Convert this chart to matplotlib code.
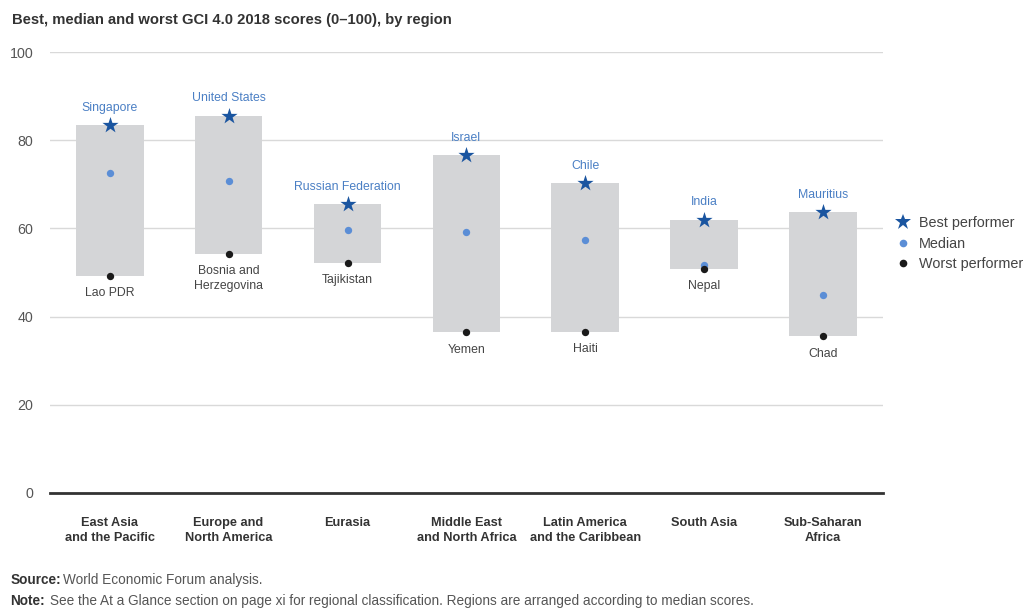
import matplotlib
matplotlib.use('Agg')
import matplotlib.pyplot as plt
from matplotlib.lines import Line2D

plt.rcParams['font.family'] = ['Liberation Sans', 'DejaVu Sans']

regions = ["East Asia\nand the Pacific", "Europe and\nNorth America", "Eurasia",
           "Middle East\nand North Africa", "Latin America\nand the Caribbean",
           "South Asia", "Sub-Saharan\nAfrica"]
best_names  = ["Singapore", "United States", "Russian Federation", "Israel", "Chile", "India", "Mauritius"]
best_scores = [83.5, 85.6, 65.6, 76.6, 70.3, 62.0, 63.7]
median_scores = [72.6, 70.7, 59.6, 59.2, 57.4, 51.7, 44.9]
worst_names  = ["Lao PDR", "Bosnia and\nHerzegovina", "Tajikistan", "Yemen", "Haiti", "Nepal", "Chad"]
worst_scores = [49.3, 54.2, 52.2, 36.4, 36.5, 50.8, 35.5]

c_bar    = "#d4d5d7"
c_star   = "#1a55a0"
c_median = "#5b8ed6"
c_worst  = "#1a1a1a"
c_label  = "#4a7fc4"
c_text   = "#444444"

fig = plt.figure(figsize=(10.24, 6.09), dpi=100)
ax = fig.add_axes([0.049, 0.1905, 0.813, 0.7241])

x = list(range(len(regions)))
heights = [b - w for b, w in zip(best_scores, worst_scores)]
ax.bar(x, heights, bottom=worst_scores, width=0.57, color=c_bar, zorder=2)
ax.scatter(x, best_scores, marker="*", s=150, color=c_star, zorder=4, linewidths=0)
ax.scatter(x, median_scores, marker="o", s=28, color=c_median, zorder=4, linewidths=0)
ax.scatter(x, worst_scores, marker="o", s=28, color=c_worst, zorder=4, linewidths=0)

for i in x:
    ax.annotate(best_names[i], (i, best_scores[i]), xytext=(0, 8), textcoords="offset points",
                ha="center", va="bottom", fontsize=8.8, color=c_label)
    ax.annotate(worst_names[i], (i, worst_scores[i]), xytext=(0, -8), textcoords="offset points",
                ha="center", va="top", fontsize=8.8, color=c_text, linespacing=1.35)

ax.set_xlim(-0.5, 6.5)
ax.set_ylim(0, 100)
ax.set_yticks([0, 20, 40, 60, 80, 100])
ax.yaxis.grid(True, color="#d9d9d9", linewidth=1.0, zorder=0)
ax.set_axisbelow(True)
for side in ["top", "right", "left"]:
    ax.spines[side].set_visible(False)
ax.spines["bottom"].set_color("#333333")
ax.spines["bottom"].set_linewidth(2)
ax.tick_params(axis="y", length=0, pad=12, labelsize=10.3, labelcolor="#555555")
ax.tick_params(axis="x", length=0, pad=17)
ax.set_xticks(x)
ax.set_xticklabels(regions, fontsize=9.2, fontweight="bold", color="#333333", linespacing=1.35)

handles = [
    Line2D([], [], marker="*", linestyle="", markersize=12, color=c_star, markeredgewidth=0),
    Line2D([], [], marker="o", linestyle="", markersize=5.5, color=c_median, markeredgewidth=0),
    Line2D([], [], marker="o", linestyle="", markersize=5.5, color=c_worst, markeredgewidth=0),
]
ax.legend(handles, ["Best performer", "Median", "Worst performer"], loc="center left",
          bbox_to_anchor=(1.0, 0.565), frameon=False, fontsize=10.4, handlelength=1.0,
          handletextpad=0.6, labelspacing=0.45, labelcolor="#444444")

fig.text(0.012, 0.978, "Best, median and worst GCI 4.0 2018 scores (0–100), by region",
         fontsize=10.6, fontweight="bold", color="#333333", va="top")
fig.text(0.010, 0.048, "Source:", fontsize=9.8, fontweight="bold", color="#333333", va="center")
fig.text(0.062, 0.048, "World Economic Forum analysis.", fontsize=9.8, color="#555555", va="center")
fig.text(0.010, 0.013, "Note:", fontsize=9.8, fontweight="bold", color="#333333", va="center")
fig.text(0.049, 0.013, "See the At a Glance section on page xi for regional classification. "
         "Regions are arranged according to median scores.", fontsize=9.8, color="#555555", va="center")

fig.savefig("out.png", dpi=100)
